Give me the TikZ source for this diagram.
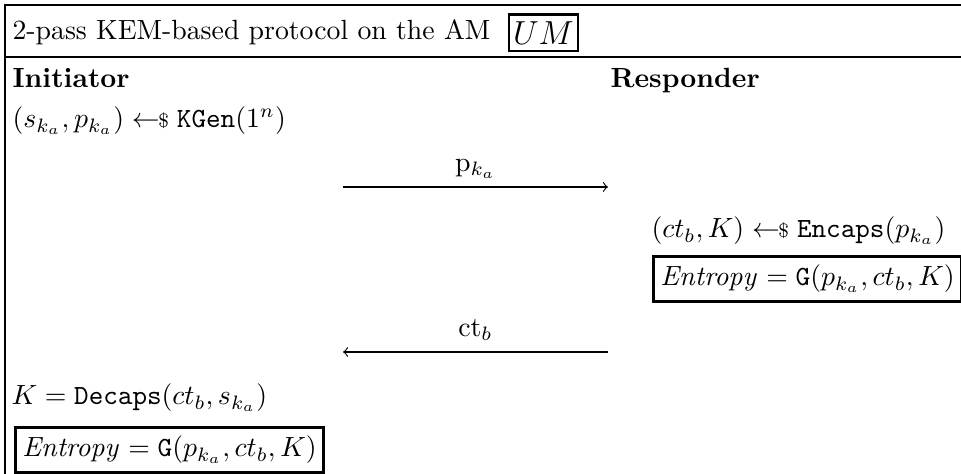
\documentclass[tikz,border=0pt]{standalone}
\usepackage{amsmath}
\usepackage{amssymb}
\usetikzlibrary{positioning}
\newcommand{\sampled}{\mathrel{\leftarrow\!\!{\scriptstyle\$}}}
\tikzset{frameline/.style={draw, line width=1pt}}
\tikzset{msg/.style={inner sep=0pt, anchor=base west}}
\tikzset{keybox/.style={draw, line width=1pt, inner xsep=2.5pt, inner ysep=3pt, anchor=west}}
\tikzset{msgedge/.style={draw, line width=0.4pt, ->}}
\tikzset{msglabel/.style={midway, inner sep=0pt, anchor=base, yshift=5.5pt}}

\begin{document}
\begin{tikzpicture}[x=0.36pt, y=-0.36pt]
\useasboundingbox (0,0) rectangle (961,474);
\draw[frameline] (961,5) -- (5,5) -- (5,474);
\draw[frameline] (5,57) -- (961,57);

\node[msg] (title) at (12,40) {2-pass KEM-based protocol on the AM};
\node[keybox, inner xsep=1.5pt, inner ysep=2.5pt, right=6pt of title.east] (um) {\large $UM$\hspace{2pt}};

\node[msg] (ini) at (12,88) {\textbf{Initiator}};
\node[msg] (res) at (610,88) {\textbf{Responder}};

\node[msg] (kgen) at (12,128) {$(s_{k_a}, p_{k_a}) \sampled \mathtt{KGen}(1^n)$};

\coordinate (a1) at (343,187);
\coordinate (b1) at (608,187);
\draw[msgedge] (a1) -- node[msglabel] (pk) {$\mathrm{p}_{k_a}$} (b1);

\node[msg] (encaps) at (651,238) {$(ct_b, K) \sampled \mathtt{Encaps}(p_{k_a})$};
\node[keybox] (entb) at (652,279) {$\mathit{Entropy} = \mathtt{G}(p_{k_a}, ct_b, K)$};

\coordinate (a2) at (608,352);
\coordinate (b2) at (343,352);
\draw[msgedge] (a2) -- node[msglabel] (ct) {$\mathrm{ct}_b$} (b2);

\node[msg] (decaps) at (11,405) {$K = \mathtt{Decaps}(ct_b, s_{k_a})$};
\node[keybox] (enta) at (14,450) {$\mathit{Entropy} = \mathtt{G}(p_{k_a}, ct_b, K)$};
\end{tikzpicture}
\end{document}
